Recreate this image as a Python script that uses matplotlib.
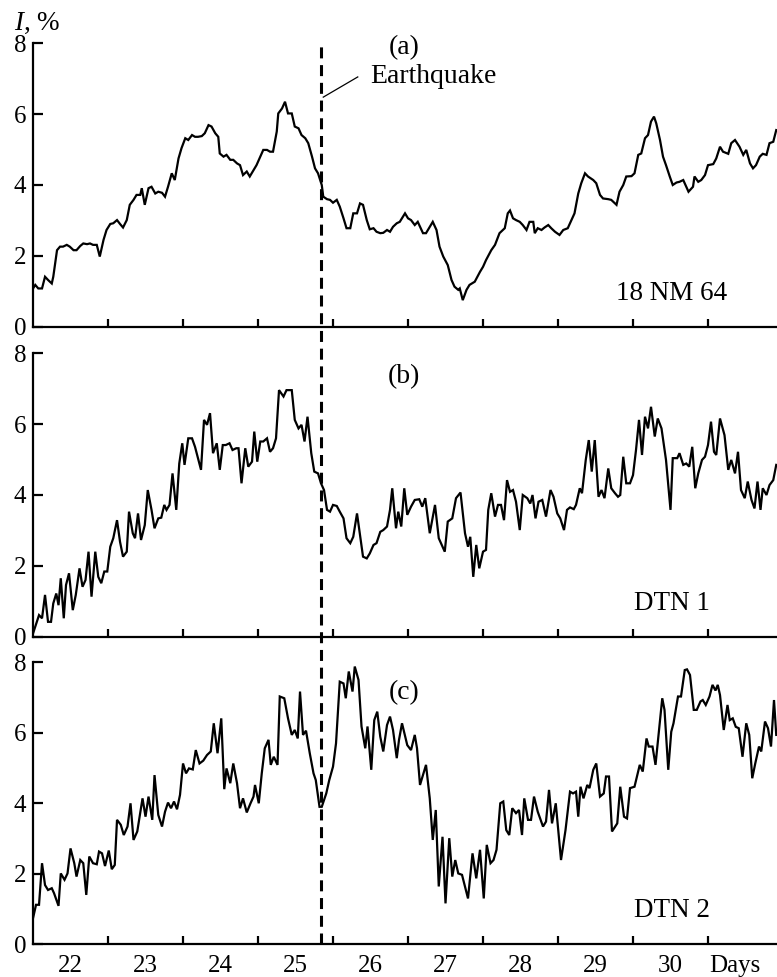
import matplotlib
matplotlib.use("Agg")
import matplotlib.pyplot as plt
from matplotlib.lines import Line2D

plt.rcParams["font.family"] = ["Liberation Serif", "DejaVu Serif"]
plt.rcParams["mathtext.fontset"] = "custom"
plt.rcParams["mathtext.it"] = "Liberation Serif:italic"
plt.rcParams["mathtext.rm"] = "Liberation Serif"

# (a) 18 NM 64 neutron monitor, hourly variation, %
a_days = [22.00, 22.03, 22.07, 22.12, 22.16, 22.20, 22.25, 22.27, 22.32, 22.36, 22.40, 22.45, 22.49,
          22.54, 22.58, 22.63, 22.67, 22.72, 22.76, 22.80, 22.85, 22.89, 22.94, 22.98, 23.03, 23.07,
          23.12, 23.16, 23.20, 23.25, 23.29, 23.34, 23.38, 23.43, 23.45, 23.49, 23.54, 23.58, 23.63,
          23.67, 23.72, 23.76, 23.80, 23.85, 23.89, 23.94, 23.98, 24.03, 24.07, 24.12, 24.16, 24.20,
          24.25, 24.29, 24.34, 24.38, 24.43, 24.47, 24.49, 24.54, 24.58, 24.63, 24.67, 24.72, 24.76,
          24.80, 24.85, 24.89, 24.94, 24.98, 25.03, 25.07, 25.12, 25.16, 25.20, 25.25, 25.27, 25.32,
          25.36, 25.40, 25.45, 25.49, 25.54, 25.58, 25.63, 25.67, 25.72, 25.76, 25.80, 25.85, 25.87,
          25.92, 25.96, 26.00, 26.05, 26.09, 26.14, 26.18, 26.23, 26.27, 26.32, 26.36, 26.40, 26.45,
          26.49, 26.54, 26.58, 26.63, 26.67, 26.72, 26.76, 26.80, 26.85, 26.89, 26.96, 27.00, 27.04,
          27.09, 27.13, 27.16, 27.20, 27.24, 27.29, 27.33, 27.38, 27.42, 27.47, 27.53, 27.58, 27.62,
          27.67, 27.69, 27.73, 27.78, 27.82, 27.89, 27.96, 28.00, 28.04, 28.11, 28.16, 28.22, 28.29,
          28.33, 28.36, 28.40, 28.44, 28.49, 28.53, 28.58, 28.62, 28.67, 28.69, 28.73, 28.78, 28.82,
          28.87, 28.91, 28.96, 29.02, 29.07, 29.13, 29.18, 29.22, 29.27, 29.31, 29.36, 29.40, 29.47,
          29.51, 29.56, 29.60, 29.67, 29.71, 29.78, 29.82, 29.87, 29.91, 29.98, 30.02, 30.07, 30.11,
          30.16, 30.20, 30.24, 30.28, 30.31, 30.36, 30.40, 30.44, 30.49, 30.53, 30.58, 30.62, 30.67,
          30.71, 30.74, 30.80, 30.82, 30.87, 30.91, 30.96, 31.00, 31.07, 31.11, 31.16, 31.20, 31.27,
          31.31, 31.36, 31.42, 31.47, 31.51, 31.56, 31.60, 31.64, 31.69, 31.73, 31.78, 31.82, 31.87,
          31.91]
a_vals = [1.08, 1.18, 1.08, 1.08, 1.41, 1.32, 1.22, 1.41, 2.16, 2.26, 2.26, 2.31, 2.26,
          2.16, 2.16, 2.28, 2.35, 2.33, 2.35, 2.31, 2.31, 1.98, 2.45, 2.73, 2.90, 2.92,
          3.01, 2.90, 2.80, 3.01, 3.44, 3.58, 3.72, 3.72, 3.91, 3.44, 3.91, 3.95, 3.76,
          3.81, 3.78, 3.67, 3.95, 4.33, 4.14, 4.75, 5.04, 5.32, 5.27, 5.41, 5.36, 5.36,
          5.38, 5.46, 5.69, 5.65, 5.46, 5.36, 4.89, 4.80, 4.85, 4.71, 4.71, 4.61, 4.56,
          4.28, 4.38, 4.24, 4.42, 4.56, 4.80, 4.99, 4.99, 4.94, 4.94, 5.51, 6.02, 6.16,
          6.35, 6.02, 6.02, 5.65, 5.60, 5.41, 5.32, 5.18, 4.80, 4.47, 4.33, 4.00, 3.67,
          3.60, 3.58, 3.50, 3.58, 3.39, 3.06, 2.78, 2.78, 3.20, 3.20, 3.48, 3.44, 3.01,
          2.75, 2.78, 2.68, 2.64, 2.65, 2.73, 2.68, 2.82, 2.92, 2.96, 3.20, 3.06, 3.01,
          2.87, 2.96, 2.82, 2.64, 2.64, 2.82, 2.96, 2.73, 2.26, 1.98, 1.74, 1.32, 1.13,
          1.04, 1.08, 0.75, 1.04, 1.18, 1.27, 1.55, 1.69, 1.88, 2.16, 2.31, 2.64, 2.78,
          3.20, 3.28, 3.06, 3.01, 2.96, 2.87, 2.73, 2.96, 2.96, 2.64, 2.78, 2.73, 2.80,
          2.87, 2.78, 2.68, 2.59, 2.73, 2.78, 3.01, 3.20, 3.76, 4.05, 4.33, 4.24, 4.14,
          4.05, 3.72, 3.62, 3.60, 3.58, 3.44, 3.81, 4.00, 4.24, 4.25, 4.33, 4.85, 4.89,
          5.32, 5.41, 5.79, 5.93, 5.74, 5.27, 4.80, 4.56, 4.24, 4.00, 4.07, 4.09, 4.14,
          3.95, 3.81, 3.95, 4.24, 4.09, 4.14, 4.28, 4.56, 4.59, 4.75, 5.08, 4.94, 4.88,
          5.18, 5.27, 5.08, 4.85, 4.99, 4.61, 4.47, 4.56, 4.80, 4.88, 4.85, 5.18, 5.22,
          5.55]

# (b) DTN 1
b_days = [22.00, 22.05, 22.08, 22.12, 22.16, 22.20, 22.24, 22.27, 22.31, 22.34, 22.37, 22.41, 22.44,
          22.48, 22.53, 22.57, 22.62, 22.66, 22.70, 22.74, 22.78, 22.83, 22.87, 22.91, 22.95, 22.99,
          23.03, 23.07, 23.12, 23.16, 23.20, 23.25, 23.28, 23.33, 23.36, 23.40, 23.44, 23.49, 23.53,
          23.58, 23.62, 23.67, 23.71, 23.75, 23.78, 23.82, 23.86, 23.91, 23.95, 23.99, 24.02, 24.07,
          24.12, 24.16, 24.20, 24.24, 24.28, 24.32, 24.36, 24.40, 24.45, 24.49, 24.53, 24.57, 24.62,
          24.66, 24.71, 24.74, 24.78, 24.83, 24.87, 24.92, 24.95, 24.99, 25.03, 25.07, 25.12, 25.16,
          25.20, 25.24, 25.28, 25.34, 25.38, 25.45, 25.49, 25.54, 25.58, 25.62, 25.66, 25.71, 25.75,
          25.80, 25.84, 25.88, 25.92, 25.96, 26.00, 26.05, 26.09, 26.14, 26.18, 26.23, 26.27, 26.32,
          26.36, 26.40, 26.45, 26.49, 26.54, 26.58, 26.63, 26.67, 26.72, 26.76, 26.79, 26.84, 26.87,
          26.91, 26.95, 26.99, 27.04, 27.09, 27.15, 27.19, 27.23, 27.29, 27.36, 27.41, 27.49, 27.53,
          27.59, 27.64, 27.70, 27.76, 27.80, 27.83, 27.87, 27.91, 27.95, 28.00, 28.04, 28.07, 28.11,
          28.16, 28.20, 28.24, 28.28, 28.32, 28.36, 28.40, 28.44, 28.49, 28.53, 28.59, 28.63, 28.66,
          28.70, 28.74, 28.79, 28.84, 28.90, 28.94, 28.99, 29.03, 29.08, 29.12, 29.16, 29.21, 29.24,
          29.29, 29.32, 29.37, 29.41, 29.45, 29.49, 29.54, 29.58, 29.62, 29.67, 29.71, 29.76, 29.80,
          29.83, 29.87, 29.91, 29.96, 30.00, 30.04, 30.08, 30.12, 30.16, 30.20, 30.24, 30.29, 30.33,
          30.38, 30.44, 30.50, 30.53, 30.59, 30.62, 30.67, 30.71, 30.75, 30.79, 30.83, 30.87, 30.92,
          30.96, 31.00, 31.04, 31.08, 31.11, 31.16, 31.22, 31.27, 31.31, 31.36, 31.40, 31.44, 31.49,
          31.53, 31.58, 31.62, 31.66, 31.70, 31.73, 31.78, 31.82, 31.87, 31.91]
b_vals = [0.09, 0.42, 0.61, 0.52, 1.18, 0.42, 0.42, 0.94, 1.22, 0.89, 1.65, 0.52, 1.46,
          1.79, 0.75, 1.18, 1.93, 1.41, 1.60, 2.40, 1.13, 2.40, 1.69, 1.51, 1.84, 1.84,
          2.54, 2.78, 3.29, 2.68, 2.26, 2.40, 3.53, 2.92, 2.78, 3.48, 2.73, 3.15, 4.14,
          3.58, 3.06, 3.34, 3.36, 3.72, 3.58, 3.72, 4.61, 3.58, 4.89, 5.46, 4.85, 5.60,
          5.60, 5.36, 5.04, 4.71, 6.12, 5.98, 6.31, 5.18, 5.46, 4.71, 5.41, 5.41, 5.46,
          5.27, 5.32, 5.32, 4.33, 5.32, 4.80, 4.94, 5.79, 4.94, 5.51, 5.51, 5.60, 5.22,
          5.32, 5.60, 6.96, 6.78, 6.96, 6.96, 6.12, 5.88, 5.98, 5.51, 6.21, 5.18, 4.66,
          4.61, 4.33, 4.14, 3.58, 3.53, 3.72, 3.69, 3.53, 3.34, 2.78, 2.64, 2.82, 3.48,
          2.87, 2.26, 2.21, 2.35, 2.59, 2.64, 2.96, 3.01, 3.11, 3.58, 4.19, 3.06, 3.53,
          3.11, 4.19, 3.44, 3.67, 3.86, 3.88, 3.67, 3.91, 2.92, 3.72, 2.78, 2.40, 3.25,
          3.34, 3.91, 4.07, 2.92, 2.54, 2.82, 1.69, 2.59, 1.93, 2.40, 2.45, 3.58, 4.05,
          3.39, 3.72, 3.72, 3.29, 4.42, 4.09, 4.14, 3.81, 3.01, 4.00, 3.91, 3.76, 4.00,
          3.34, 3.81, 3.86, 3.39, 4.14, 3.95, 3.48, 3.34, 3.01, 3.58, 3.65, 3.60, 3.72,
          4.19, 4.05, 4.99, 5.55, 4.66, 5.55, 3.95, 4.14, 3.91, 4.75, 4.19, 4.05, 3.95,
          4.00, 5.08, 4.33, 4.33, 4.56, 5.27, 6.12, 5.13, 6.21, 5.88, 6.49, 5.65, 6.16,
          5.88, 4.99, 3.58, 5.04, 5.04, 5.18, 4.85, 4.89, 4.80, 5.36, 4.19, 4.61, 4.99,
          5.08, 5.41, 6.07, 5.22, 5.13, 6.16, 5.69, 4.71, 4.99, 4.61, 5.22, 4.14, 3.91,
          4.38, 3.86, 3.62, 4.38, 3.58, 4.19, 4.00, 4.28, 4.42, 4.85]

# (c) DTN 2
c_days = [22.00, 22.04, 22.08, 22.12, 22.16, 22.20, 22.25, 22.28, 22.34, 22.37, 22.42, 22.46, 22.50,
          22.55, 22.58, 22.63, 22.67, 22.71, 22.75, 22.80, 22.85, 22.88, 22.92, 22.96, 23.01, 23.05,
          23.09, 23.12, 23.17, 23.21, 23.26, 23.30, 23.34, 23.39, 23.46, 23.50, 23.54, 23.59, 23.62,
          23.67, 23.72, 23.76, 23.80, 23.84, 23.88, 23.92, 23.96, 24.00, 24.04, 24.08, 24.13, 24.17,
          24.22, 24.27, 24.32, 24.37, 24.41, 24.46, 24.51, 24.55, 24.58, 24.63, 24.67, 24.72, 24.76,
          24.80, 24.85, 24.90, 24.94, 24.96, 25.01, 25.05, 25.09, 25.14, 25.17, 25.21, 25.26, 25.29,
          25.35, 25.40, 25.45, 25.49, 25.53, 25.56, 25.60, 25.64, 25.69, 25.74, 25.77, 25.82, 25.85,
          25.91, 25.95, 26.00, 26.04, 26.09, 26.14, 26.17, 26.21, 26.26, 26.29, 26.34, 26.38, 26.43,
          26.46, 26.51, 26.55, 26.59, 26.63, 26.67, 26.72, 26.76, 26.80, 26.85, 26.88, 26.92, 26.99,
          27.04, 27.09, 27.12, 27.16, 27.24, 27.29, 27.33, 27.37, 27.41, 27.46, 27.50, 27.55, 27.59,
          27.63, 27.67, 27.72, 27.76, 27.80, 27.86, 27.91, 27.96, 28.01, 28.05, 28.10, 28.14, 28.18,
          28.23, 28.27, 28.31, 28.35, 28.39, 28.44, 28.48, 28.52, 28.55, 28.60, 28.64, 28.68, 28.73,
          28.80, 28.84, 28.88, 28.92, 28.97, 29.04, 29.10, 29.16, 29.20, 29.24, 29.27, 29.30, 29.34,
          29.39, 29.42, 29.47, 29.51, 29.56, 29.61, 29.64, 29.68, 29.72, 29.79, 29.83, 29.88, 29.92,
          29.96, 30.02, 30.09, 30.13, 30.18, 30.21, 30.26, 30.30, 30.39, 30.42, 30.47, 30.51, 30.54,
          30.60, 30.64, 30.69, 30.72, 30.76, 30.81, 30.85, 30.90, 30.93, 30.97, 31.02, 31.06, 31.10,
          31.13, 31.16, 31.21, 31.26, 31.29, 31.33, 31.37, 31.41, 31.46, 31.51, 31.55, 31.59, 31.63,
          31.68, 31.71, 31.76, 31.80, 31.84, 31.88, 31.91]
c_vals = [0.74, 1.12, 1.12, 2.30, 1.68, 1.54, 1.59, 1.45, 1.09, 2.01, 1.83, 2.01, 2.72,
          2.30, 1.92, 2.39, 2.30, 1.40, 2.49, 2.30, 2.27, 2.63, 2.58, 2.22, 2.66, 2.13,
          2.25, 3.53, 3.39, 3.10, 3.34, 4.00, 2.96, 3.20, 4.14, 3.62, 4.19, 3.53, 4.80,
          3.67, 3.34, 3.76, 4.02, 3.86, 4.05, 3.83, 4.24, 5.13, 4.85, 4.99, 4.96, 5.51,
          5.13, 5.21, 5.37, 5.47, 6.27, 5.42, 6.41, 4.40, 4.99, 4.57, 5.13, 4.57, 3.86,
          4.14, 3.74, 4.00, 4.19, 4.52, 4.00, 4.85, 5.56, 5.80, 5.09, 5.32, 5.09, 7.03,
          6.98, 6.41, 5.94, 6.08, 5.84, 7.17, 5.94, 6.06, 5.42, 4.85, 4.66, 3.90, 3.90,
          4.28, 4.66, 5.04, 5.70, 7.45, 7.40, 6.98, 7.74, 7.17, 7.88, 7.50, 6.18, 5.56,
          6.18, 4.95, 6.36, 6.60, 5.89, 5.47, 6.22, 6.46, 6.08, 5.28, 5.80, 6.27, 5.65,
          5.51, 5.94, 5.56, 4.52, 5.09, 4.14, 2.96, 3.81, 1.64, 3.05, 1.16, 3.01, 1.92,
          2.39, 2.01, 1.97, 1.64, 1.30, 2.58, 1.87, 2.68, 1.30, 2.82, 2.30, 2.39, 2.68,
          4.00, 4.05, 3.24, 3.10, 3.86, 3.72, 3.81, 3.10, 4.14, 3.53, 3.53, 4.19, 3.76,
          3.34, 3.48, 4.38, 3.43, 4.00, 2.39, 3.24, 4.33, 4.28, 4.33, 3.62, 4.47, 4.14,
          4.52, 4.43, 4.95, 5.13, 4.19, 4.28, 4.76, 4.76, 3.20, 3.43, 4.47, 3.62, 3.57,
          4.43, 4.47, 5.09, 4.90, 5.84, 5.61, 5.61, 5.09, 6.98, 6.65, 4.95, 6.03, 6.27,
          7.03, 7.03, 7.78, 7.80, 7.64, 6.65, 6.65, 6.89, 6.93, 6.79, 7.03, 7.36, 7.20,
          7.36, 7.07, 6.08, 6.79, 6.36, 6.41, 6.17, 6.13, 5.32, 6.27, 5.94, 4.71, 5.13,
          5.61, 5.47, 6.32, 6.13, 5.61, 6.93, 5.94]

panels = [
    (a_days, a_vals, "(a)", "18 NM 64"),
    (b_days, b_vals, "(b)", "DTN 1"),
    (c_days, c_vals, "(c)", "DTN 2"),
]
quake_day = 25.84
day_ticks = [23, 24, 25, 26, 27, 28, 29, 30, 31]
day_labels = ["22", "23", "24", "25", "26", "27", "28", "29", "30", "Days"]
label_pos = [22.5, 23.5, 24.5, 25.5, 26.5, 27.5, 28.5, 29.5, 30.5, 31.36]

fig = plt.figure(figsize=(7.77, 9.77), dpi=100)
boxes = [[0.0425, 0.6656, 0.9575, 0.2901],
         [0.0425, 0.3483, 0.9575, 0.2901],
         [0.0425, 0.0335, 0.9575, 0.2886]]
tag_y = [7.87, 7.33, 7.13]
axes = []
for box, ty, (days, vals, tag, station) in zip(boxes, tag_y, panels):
    ax = fig.add_axes(box)
    ax.plot(days, vals, color="black", lw=1.6, solid_joinstyle="miter")
    ax.set_xlim(22, 31.92)
    ax.set_ylim(0, 8)
    for side in ("top", "right"):
        ax.spines[side].set_visible(False)
    for side in ("left", "bottom"):
        ax.spines[side].set_linewidth(1.6)
    ax.set_yticks([0, 2, 4, 6, 8])
    ax.tick_params(axis="y", direction="in", length=7, width=1.6, labelsize=18, pad=5)
    ax.set_xticks(day_ticks)
    ax.set_xticklabels([])
    ax.tick_params(axis="x", which="major", direction="in", length=6, width=1.6)
    ax.text(26.95, ty, tag, fontsize=20, ha="center", va="center")
    ax.text(30.52, 0.95, station, fontsize=19.5, ha="center", va="center")
    axes.append(ax)

# day labels sit in the middle of each day on the bottom panel
ax_c = axes[2]
ax_c.set_xticks(label_pos, minor=True)
ax_c.set_xticklabels(day_labels, minor=True)
ax_c.tick_params(axis="x", which="minor", length=0, labelsize=18, pad=8)

ax_a = axes[0]
ax_a.plot([25.87, 26.33], [6.48, 7.05], color="black", lw=0.9, clip_on=False)
ax_a.text(26.49, 7.05, "Earthquake", fontsize=20, ha="left", va="center")
fig.text(0.048, 0.976, "$I$, %", fontsize=19.5, ha="center", va="center")

# earthquake moment across all three panels
to_fig = fig.transFigure.inverted()
x0, y_top = to_fig.transform(ax_a.transData.transform((quake_day, 8.03)))
_, y_bot = to_fig.transform(ax_c.transData.transform((quake_day, 0)))
fig.add_artist(Line2D([x0, x0], [y_bot, y_top], transform=fig.transFigure,
                      color="black", lw=2.2, dashes=(3.6, 2.2)))

fig.savefig("out.png", dpi=100)
